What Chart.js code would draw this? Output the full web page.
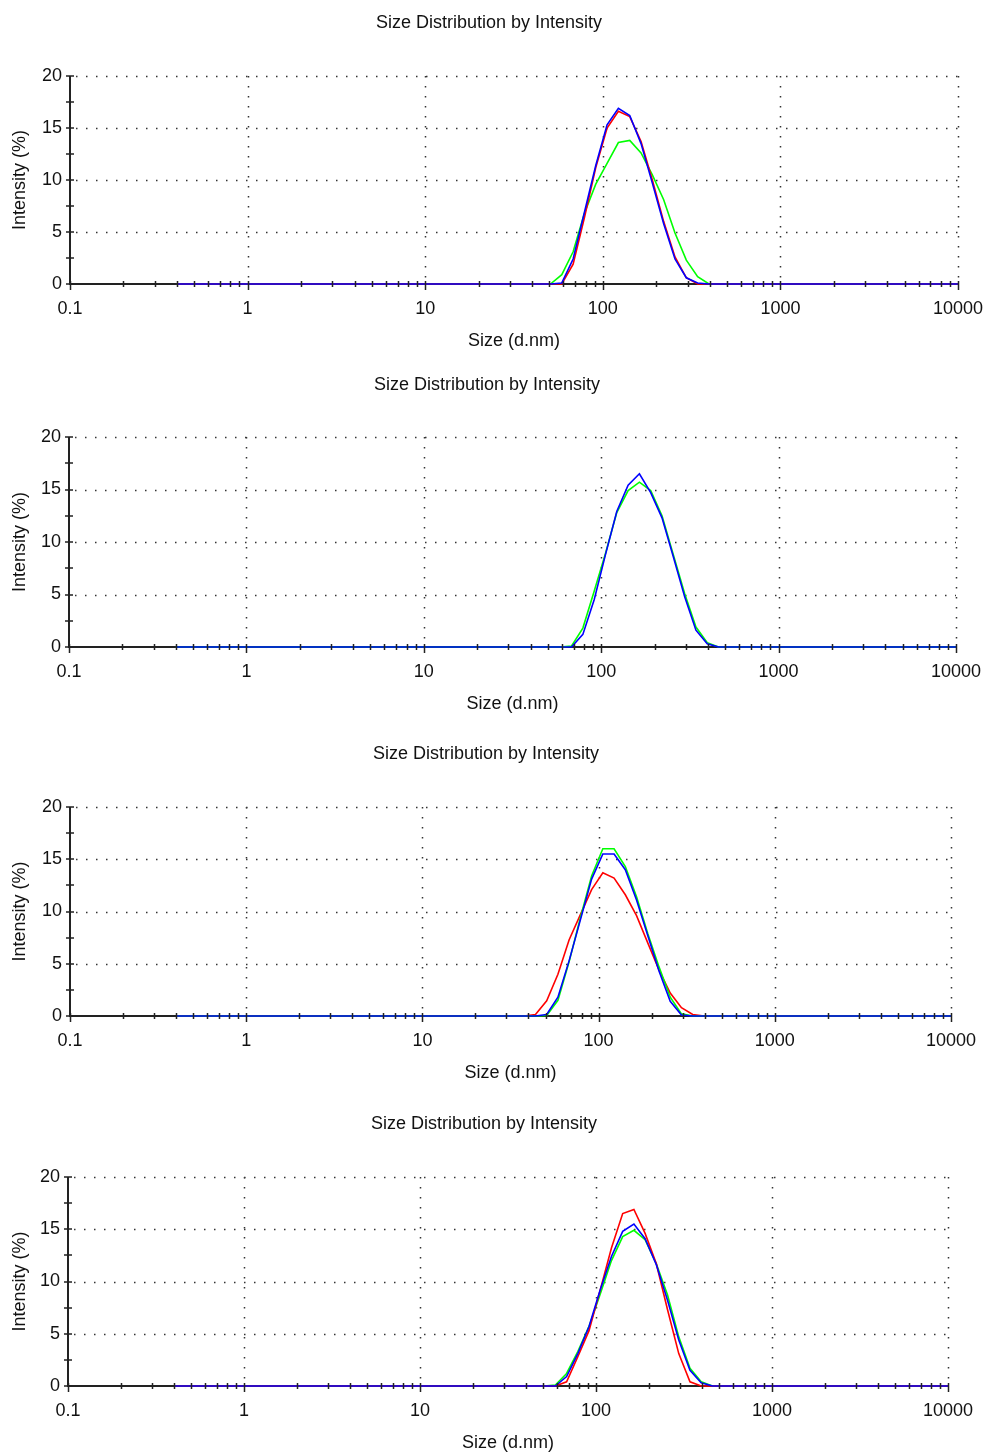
<!DOCTYPE html>
<html>
<head>
<meta charset="utf-8">
<script src="https://cdn.jsdelivr.net/npm/chart.js@4/dist/chart.umd.min.js"></script>
<style>
  html, body { margin: 0; padding: 0; background: #fff; }
  body { width: 984px; height: 1454px; position: relative; overflow: hidden; }
  canvas { position: absolute; left: 0; }
</style>
</head>
<body>
<canvas id="c0" width="984" height="370"></canvas>
<canvas id="c1" width="984" height="370"></canvas>
<canvas id="c2" width="984" height="370"></canvas>
<canvas id="c3" width="984" height="370"></canvas>
<script>
// Zetasizer size classes (d.nm)
const SIZES = [0.4, 0.4632, 0.5365, 0.6213, 0.7195, 0.8332, 0.9649, 1.117, 1.294, 1.499,
  1.736, 2.010, 2.328, 2.696, 3.122, 3.615, 4.187, 4.849, 5.615, 6.503,
  7.531, 8.721, 10.10, 11.70, 13.54, 15.69, 18.17, 21.04, 24.36, 28.21,
  32.67, 37.84, 43.82, 50.75, 58.77, 68.06, 78.82, 91.28, 105.7, 122.4,
  141.8, 164.2, 190.1, 220.2, 255.0, 295.3, 342.0, 396.1, 458.7, 531.2,
  615.1, 712.4, 825.0, 955.4, 1106, 1281, 1484, 1718, 1990, 2305,
  2669, 3091, 3580, 4145, 4801, 5560, 6439, 7456, 8635, 10000];

const TITLE = "Size Distribution by Intensity";
const X_TITLE = "Size (d.nm)";
const Y_TITLE = "Intensity (%)";
const X_TICKS = [0.1, 1, 10, 100, 1000, 10000];
const X_TICK_LABELS = ["0.1", "1", "10", "100", "1000", "10000"];
const Y_TICKS = [0, 5, 10, 15, 20];

// intensity (%) per size class
const P1_RED = [0,0,0,0,0,0,0,0,0,0, 0,0,0,0,0,0,0,0,0,0, 0,0,0,0,0,0,0,0,0,0, 0,0,
  0, 0, 0, 1.9, 6.4, 11.2, 15.0, 16.6, 16.1, 13.7, 10.0, 6.0, 2.6, 0.6, 0, 0, 0, 0,
  0,0,0,0,0,0,0,0,0,0, 0,0,0,0,0,0,0,0,0,0];
const P1_GREEN = [0,0,0,0,0,0,0,0,0,0, 0,0,0,0,0,0,0,0,0,0, 0,0,0,0,0,0,0,0,0,0, 0,0,
  0, 0, 0.9, 3.1, 6.8, 9.6, 11.6, 13.6, 13.8, 12.6, 10.5, 8.1, 4.9, 2.3, 0.7, 0, 0, 0,
  0,0,0,0,0,0,0,0,0,0, 0,0,0,0,0,0,0,0,0,0];
const P1_BLUE = [0,0,0,0,0,0,0,0,0,0, 0,0,0,0,0,0,0,0,0,0, 0,0,0,0,0,0,0,0,0,0, 0,0,
  0, 0, 0.1, 2.4, 6.9, 11.4, 15.3, 16.9, 16.2, 13.5, 9.7, 5.8, 2.4, 0.6, 0.1, 0, 0, 0,
  0,0,0,0,0,0,0,0,0,0, 0,0,0,0,0,0,0,0,0,0];

const P2_GREEN = [0,0,0,0,0,0,0,0,0,0, 0,0,0,0,0,0,0,0,0,0, 0,0,0,0,0,0,0,0,0,0, 0,0,
  0, 0, 0, 0.1, 1.8, 5.3, 8.9, 12.8, 14.9, 15.7, 14.9, 12.5, 8.8, 5.1, 1.9, 0.4, 0, 0,
  0,0,0,0,0,0,0,0,0,0, 0,0,0,0,0,0,0,0,0,0];
const P2_BLUE = [0,0,0,0,0,0,0,0,0,0, 0,0,0,0,0,0,0,0,0,0, 0,0,0,0,0,0,0,0,0,0, 0,0,
  0, 0, 0, 0, 1.2, 4.5, 8.8, 12.9, 15.4, 16.5, 14.7, 12.3, 8.6, 4.8, 1.6, 0.3, 0, 0,
  0,0,0,0,0,0,0,0,0,0, 0,0,0,0,0,0,0,0,0,0];

const P3_RED = [0,0,0,0,0,0,0,0,0,0, 0,0,0,0,0,0,0,0,0,0, 0,0,0,0,0,0,0,0,0,0, 0,0,
  0.15, 1.45, 4.0, 7.3, 9.7, 12.1, 13.7, 13.2, 11.6, 9.6, 7.0, 4.4, 2.2, 0.8, 0.15, 0, 0, 0,
  0,0,0,0,0,0,0,0,0,0, 0,0,0,0,0,0,0,0,0,0];
const P3_GREEN = [0,0,0,0,0,0,0,0,0,0, 0,0,0,0,0,0,0,0,0,0, 0,0,0,0,0,0,0,0,0,0, 0,0,
  0, 0.05, 1.5, 5.2, 9.4, 13.4, 16.0, 16.0, 14.3, 11.4, 7.9, 4.7, 1.8, 0.2, 0, 0, 0, 0,
  0,0,0,0,0,0,0,0,0,0, 0,0,0,0,0,0,0,0,0,0];
const P3_BLUE = [0,0,0,0,0,0,0,0,0,0, 0,0,0,0,0,0,0,0,0,0, 0,0,0,0,0,0,0,0,0,0, 0,0,
  0, 0.15, 1.8, 5.3, 9.2, 13.1, 15.5, 15.5, 14.0, 11.1, 7.7, 4.3, 1.4, 0.1, 0, 0, 0, 0,
  0,0,0,0,0,0,0,0,0,0, 0,0,0,0,0,0,0,0,0,0];

const P4_RED = [0,0,0,0,0,0,0,0,0,0, 0,0,0,0,0,0,0,0,0,0, 0,0,0,0,0,0,0,0,0,0, 0,0,
  0, 0, 0, 0.4, 2.8, 5.3, 9.2, 13.2, 16.5, 16.9, 14.6, 11.7, 7.3, 3.1, 0.4, 0, 0, 0,
  0,0,0,0,0,0,0,0,0,0, 0,0,0,0,0,0,0,0,0,0];
const P4_GREEN = [0,0,0,0,0,0,0,0,0,0, 0,0,0,0,0,0,0,0,0,0, 0,0,0,0,0,0,0,0,0,0, 0,0,
  0, 0, 0.1, 1.2, 3.3, 5.7, 8.8, 12.0, 14.3, 14.9, 14.0, 11.7, 8.7, 4.7, 1.7, 0.4, 0, 0,
  0,0,0,0,0,0,0,0,0,0, 0,0,0,0,0,0,0,0,0,0];
const P4_BLUE = [0,0,0,0,0,0,0,0,0,0, 0,0,0,0,0,0,0,0,0,0, 0,0,0,0,0,0,0,0,0,0, 0,0,
  0, 0, 0, 0.9, 3.1, 5.7, 9.2, 12.4, 14.8, 15.5, 14.1, 11.6, 8.2, 4.4, 1.5, 0.3, 0, 0,
  0,0,0,0,0,0,0,0,0,0, 0,0,0,0,0,0,0,0,0,0];

// first listed = drawn on top
const PANELS = [
  [["#0000ff", P1_BLUE], ["#ff0000", P1_RED], ["#00ff00", P1_GREEN]],
  [["#0000ff", P2_BLUE], ["#00ff00", P2_GREEN]],
  [["#0000ff", P3_BLUE], ["#00ff00", P3_GREEN], ["#ff0000", P3_RED]],
  [["#0000ff", P4_BLUE], ["#ff0000", P4_RED], ["#00ff00", P4_GREEN]]
];

// page layout (px)
const PANEL_TOP = [0, 361, 731, 1101];
const AXIS_LEFT = [70, 69, 70, 68];
const AXIS_RIGHT = [958, 956, 951, 948];
const TITLE_SHIFT = [6, 10, 12, 16];
const TITLE_PAD = [[12.2, 42.2], [13.2, 41.2], [12.2, 42.2], [12.2, 42.2]];
const PAD_BOTTOM = [18, 16, 17, 17];
const X_BOX = 68;

Chart.defaults.font.family = "'Liberation Sans', Arial, sans-serif";
Chart.defaults.font.size = 18;
Chart.defaults.color = "#111";

const dlsAxes = {
  id: "dlsAxes",
  beforeDatasetsDraw(chart) {
    const { ctx, chartArea: a, scales: { x, y } } = chart;
    ctx.save();
    // dotted grid
    ctx.strokeStyle = "#333";
    ctx.lineWidth = 1.5;
    ctx.setLineDash([1.5, 8.5]);
    Y_TICKS.slice(1).forEach(v => {
      const py = Math.round(y.getPixelForValue(v)) + 0.5;
      ctx.beginPath(); ctx.moveTo(a.left + 6, py); ctx.lineTo(a.right, py); ctx.stroke();
    });
    X_TICKS.slice(1).forEach(v => {
      const px = Math.round(x.getPixelForValue(v)) + 0.5;
      ctx.beginPath(); ctx.moveTo(px, a.top); ctx.lineTo(px, a.bottom - 4); ctx.stroke();
    });
    ctx.setLineDash([]);
    // axis lines
    ctx.strokeStyle = "#222";
    ctx.lineWidth = 2;
    ctx.beginPath();
    ctx.moveTo(a.left, a.top); ctx.lineTo(a.left, a.bottom);
    ctx.lineTo(a.right, a.bottom);
    ctx.stroke();
    ctx.restore();
  },
  afterDatasetsDraw(chart) {
    const { ctx, chartArea: a, scales: { x, y } } = chart;
    ctx.save();
    ctx.strokeStyle = "#222";
    ctx.lineWidth = 1.5;
    ctx.beginPath();
    for (let v = 0; v <= 20; v += 2.5) {
      const py = Math.round(y.getPixelForValue(v));
      ctx.moveTo(a.left - 4, py); ctx.lineTo(a.left + 4, py);
    }
    X_TICKS.forEach((d, i) => {
      const px = Math.round(x.getPixelForValue(d)) + 0.5;
      ctx.moveTo(px, a.bottom - 3); ctx.lineTo(px, a.bottom + 6);
      if (i === X_TICKS.length - 1) return;
      for (let k = 2; k <= 9; k++) {
        const pm = Math.round(x.getPixelForValue(d * k)) + 0.5;
        ctx.moveTo(pm, a.bottom - 3); ctx.lineTo(pm, a.bottom + 3);
      }
    });
    ctx.stroke();
    ctx.restore();
  }
};

PANELS.forEach((series, i) => {
  const canvas = document.getElementById("c" + i);
  canvas.style.top = PANEL_TOP[i] + "px";
  new Chart(canvas, {
    type: "line",
    data: {
      datasets: series.map(([color, vals]) => ({
        data: SIZES.map((s, j) => ({ x: s, y: vals[j] })),
        borderColor: color,
        borderWidth: 1.6,
        pointRadius: 0,
        tension: 0,
        fill: false,
        clip: false
      }))
    },
    options: {
      responsive: false,
      animation: false,
      layout: { padding: { left: 0, top: 0, right: TITLE_SHIFT[i], bottom: PAD_BOTTOM[i] } },
      plugins: {
        legend: { display: false },
        tooltip: { enabled: false },
        title: {
          display: true,
          text: TITLE,
          font: { size: 18, weight: "normal" },
          padding: { top: TITLE_PAD[i][0], bottom: TITLE_PAD[i][1] }
        }
      },
      scales: {
        x: {
          type: "logarithmic",
          min: 0.1,
          max: 10000,
          afterBuildTicks: s => { s.ticks = X_TICKS.map(v => ({ value: v })); },
          afterFit: s => {
            s.height = X_BOX;
            s.paddingRight = 984 - AXIS_RIGHT[i];
            s.paddingLeft = 10;
          },
          grid: { display: false, drawTicks: false },
          border: { display: false },
          ticks: {
            autoSkip: false,
            maxRotation: 0,
            padding: 14,
            callback: (v, idx) => X_TICK_LABELS[idx]
          },
          title: { display: true, text: X_TITLE, padding: 0, font: { size: 18 } }
        },
        y: {
          min: 0,
          max: 20,
          afterBuildTicks: s => { s.ticks = Y_TICKS.map(v => ({ value: v })); },
          afterFit: s => { s.width = AXIS_LEFT[i]; },
          grid: { display: false, drawTicks: false },
          border: { display: false },
          ticks: { padding: 8 },
          title: { display: true, text: Y_TITLE, padding: { top: 9, bottom: 0 }, font: { size: 18 } }
        }
      }
    },
    plugins: [dlsAxes]
  });
});
</script>
</body>
</html>
